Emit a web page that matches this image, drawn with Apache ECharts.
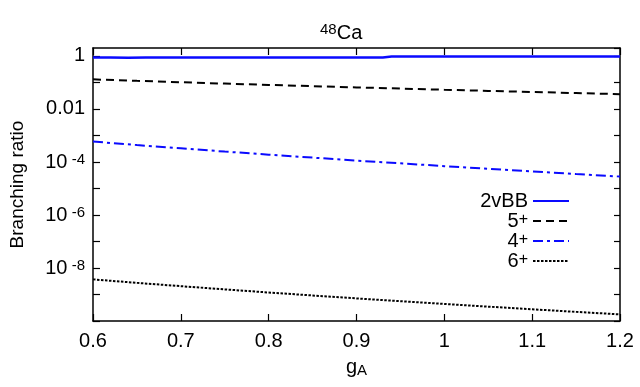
<!DOCTYPE html>
<html>
<head>
<meta charset="utf-8">
<script src="https://cdn.jsdelivr.net/npm/echarts@6/dist/echarts.min.js"></script>
<style>
html, body { margin: 0; padding: 0; background: #fff; }
#chart { width: 640px; height: 387px; }
</style>
</head>
<body>
<div id="chart"></div>
<script>
// gA 取值
var gA = [0.6, 0.65, 0.7, 0.75, 0.8, 0.85, 0.9, 0.95, 1.0, 1.05, 1.1, 1.15, 1.2];
// 2vBB 单独的取值点 (0.93 附近有一个小台阶)
var gA2v = [0.6, 0.62, 0.64, 0.66, 0.7, 0.8, 0.9, 0.93, 0.94, 1.0, 1.1, 1.2];
var br2vBB = [0.88, 0.87, 0.86, 0.87, 0.88, 0.88, 0.88, 0.88, 0.96, 0.96, 0.96, 0.96];
var br5 = [0.131, 0.1153, 0.1021, 0.0908, 0.0811, 0.0726, 0.0653, 0.0589, 0.0532, 0.0482, 0.0438, 0.0398, 0.0363];
var br4 = [5.89e-4, 4.36e-4, 3.27e-4, 2.47e-4, 1.89e-4, 1.46e-4, 1.13e-4, 8.87e-5, 6.97e-5, 5.52e-5, 4.40e-5, 3.51e-5, 2.82e-5];
var br6 = [3.72e-9, 2.75e-9, 2.06e-9, 1.56e-9, 1.19e-9, 9.18e-10, 7.13e-10, 5.60e-10, 4.40e-10, 3.48e-10, 2.77e-10, 2.21e-10, 1.78e-10];
// y 轴上带标签的指数
var yLabelExp = [0, -2, -4, -6, -8];
var seriesNames = ['2vBB', '5+', '4+', '6+'];

var font = 'Liberation Sans';
var supStyle = { fontSize: 15, fontFamily: font, color: '#000', verticalAlign: 'top', lineHeight: 12 };

function pairs(xs, ys) {
    return xs.map(function (x, i) { return [x, ys[i]]; });
}

function yLabel(v) {
    var l = Math.log10(v);
    var e = Math.round(l);
    if (Math.abs(l - e) > 1e-6 || yLabelExp.indexOf(e) < 0) return '';
    if (e === 0) return '1';
    if (e === -2) return '0.01';
    return '10{sup| ' + e + '}';
}

var chart = echarts.init(document.getElementById('chart'));

var axisLine = { show: true, onZero: false, lineStyle: { color: '#000', width: 1.5 } };

var option = {
    animation: false,
    backgroundColor: '#fff',
    title: {
        text: '{sup|48}Ca',
        left: 315,
        top: 17,
        textStyle: {
            fontFamily: font, fontSize: 20, fontWeight: 'normal', color: '#000', lineHeight: 22,
            rich: { sup: supStyle }
        }
    },
    grid: { left: 93, right: 20, top: 48, bottom: 66 },
    legend: {
        orient: 'vertical',
        align: 'right',
        right: 65,
        top: 186,
        itemWidth: 36,
        itemHeight: 14,
        itemGap: 0,
        data: seriesNames,
        // 图例里不要圆点, 只保留线型
        itemStyle: { opacity: 0 },
        formatter: function (name) {
            if (name === '2vBB') return name;
            return name.charAt(0) + '{sup|+}';
        },
        textStyle: {
            fontFamily: font, fontSize: 20, color: '#000', lineHeight: 19.3,
            rich: { sup: { fontSize: 16, fontFamily: font, color: '#000', verticalAlign: 'top', lineHeight: 12 } }
        }
    },
    xAxis: [{
        type: 'value',
        min: 0.6,
        max: 1.2,
        interval: 0.1,
        name: 'g{sub|A}',
        nameLocation: 'middle',
        nameGap: 29,
        nameTextStyle: {
            fontFamily: font, fontSize: 20, color: '#000',
            rich: { sub: { fontSize: 15, fontFamily: font, color: '#000', verticalAlign: 'bottom', lineHeight: 14, padding: [7, 0, 0, 0] } }
        },
        axisLine: axisLine,
        axisTick: { inside: true, length: 7, lineStyle: { color: '#000', width: 1.2 } },
        axisLabel: { fontFamily: font, fontSize: 20, color: '#000', margin: 10 },
        splitLine: { show: false }
    }, {
        type: 'value',
        position: 'top',
        min: 0.6,
        max: 1.2,
        interval: 0.1,
        axisLine: axisLine,
        axisTick: { inside: true, length: 7, lineStyle: { color: '#000', width: 1.2 } },
        axisLabel: { show: false },
        splitLine: { show: false }
    }],
    yAxis: [{
        type: 'log',
        logBase: 10,
        min: 1e-10,
        max: 2,
        interval: 1,
        name: 'Branching ratio',
        nameLocation: 'middle',
        nameRotate: 90,
        nameGap: 66,
        nameTextStyle: { fontFamily: font, fontSize: 19, color: '#000' },
        axisLine: axisLine,
        axisTick: { inside: true, length: 7, lineStyle: { color: '#000', width: 1.2 } },
        axisLabel: {
            fontFamily: font, fontSize: 20, color: '#000', margin: 8,
            showMaxLabel: false,
            formatter: yLabel,
            rich: { sup: supStyle }
        },
        splitLine: { show: false }
    }, {
        type: 'log',
        logBase: 10,
        position: 'right',
        min: 1e-10,
        max: 2,
        interval: 1,
        axisLine: axisLine,
        axisTick: { inside: true, length: 6, lineStyle: { color: '#000', width: 1.2 } },
        axisLabel: { show: false },
        splitLine: { show: false }
    }],
    series: [{
        name: '2vBB',
        type: 'line',
        symbol: 'none',
        data: pairs(gA2v, br2vBB),
        lineStyle: { color: '#0a0aff', width: 2.5, type: 'solid' },
        itemStyle: { color: '#0a0aff' }
    }, {
        name: '5+',
        type: 'line',
        symbol: 'none',
        data: pairs(gA, br5),
        lineStyle: { color: '#000', width: 2, type: [8, 5] },
        itemStyle: { color: '#000' }
    }, {
        name: '4+',
        type: 'line',
        symbol: 'none',
        data: pairs(gA, br4),
        lineStyle: { color: '#0a0aff', width: 2, type: [10, 4, 3, 4] },
        itemStyle: { color: '#0a0aff' }
    }, {
        name: '6+',
        type: 'line',
        symbol: 'none',
        data: pairs(gA, br6),
        lineStyle: { color: '#000', width: 2, type: [2.5, 1.5] },
        itemStyle: { color: '#000' }
    }]
};

chart.setOption(option);
</script>
</body>
</html>
